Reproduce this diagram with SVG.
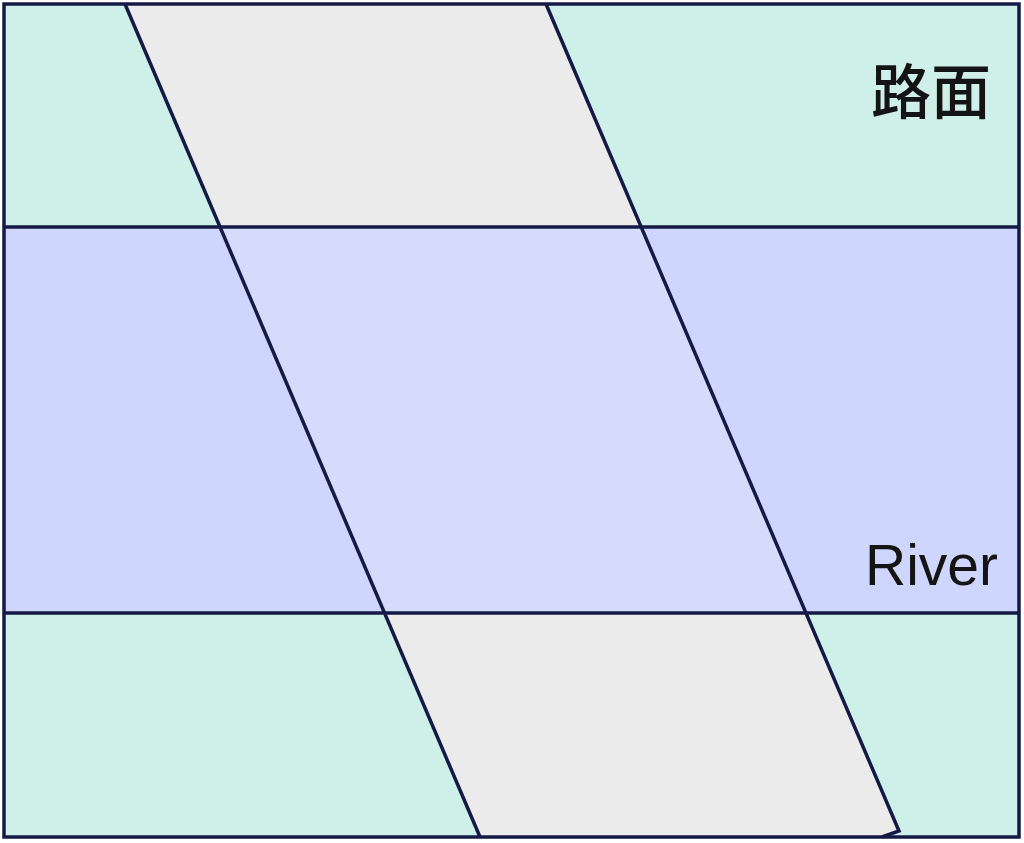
<svg xmlns="http://www.w3.org/2000/svg" width="1024" height="843" viewBox="0 0 1024 843">
<style>
.ln{fill:none;stroke:#141a45;stroke-width:3.5;stroke-linejoin:miter}
.lbl{font-family:"Liberation Sans","Noto Sans CJK SC",sans-serif;fill:#141414}
</style>
<g id="ground">
<rect x="4" y="4" width="1015" height="833" fill="#cff0e8"/>
</g>
<g id="road-surface">
<polygon points="125,4 546,4 899,831 882,837 480,837" fill="#ebebeb"/>
</g>
<g id="river">
<rect x="4" y="227" width="1015" height="386" fill="#cfd6fe"/>
<polygon points="220,227 641,227 806,613 384,613" fill="#d5dbfa"/>
</g>
<g id="connectors">
<polyline class="ln" points="125,4 480,837"/>
<polyline class="ln" points="546,4 899,831 882,837"/>
<line class="ln" x1="4" y1="227" x2="1019" y2="227"/>
<line class="ln" x1="4" y1="613" x2="1019" y2="613"/>
<rect class="ln" x="4" y="4" width="1015" height="833"/>
</g>
<g id="labels">
<text class="lbl" x="871" y="114" font-size="60" font-weight="500">路面</text>
<text class="lbl" x="865" y="585" font-size="57">River</text>
</g>
</svg>
